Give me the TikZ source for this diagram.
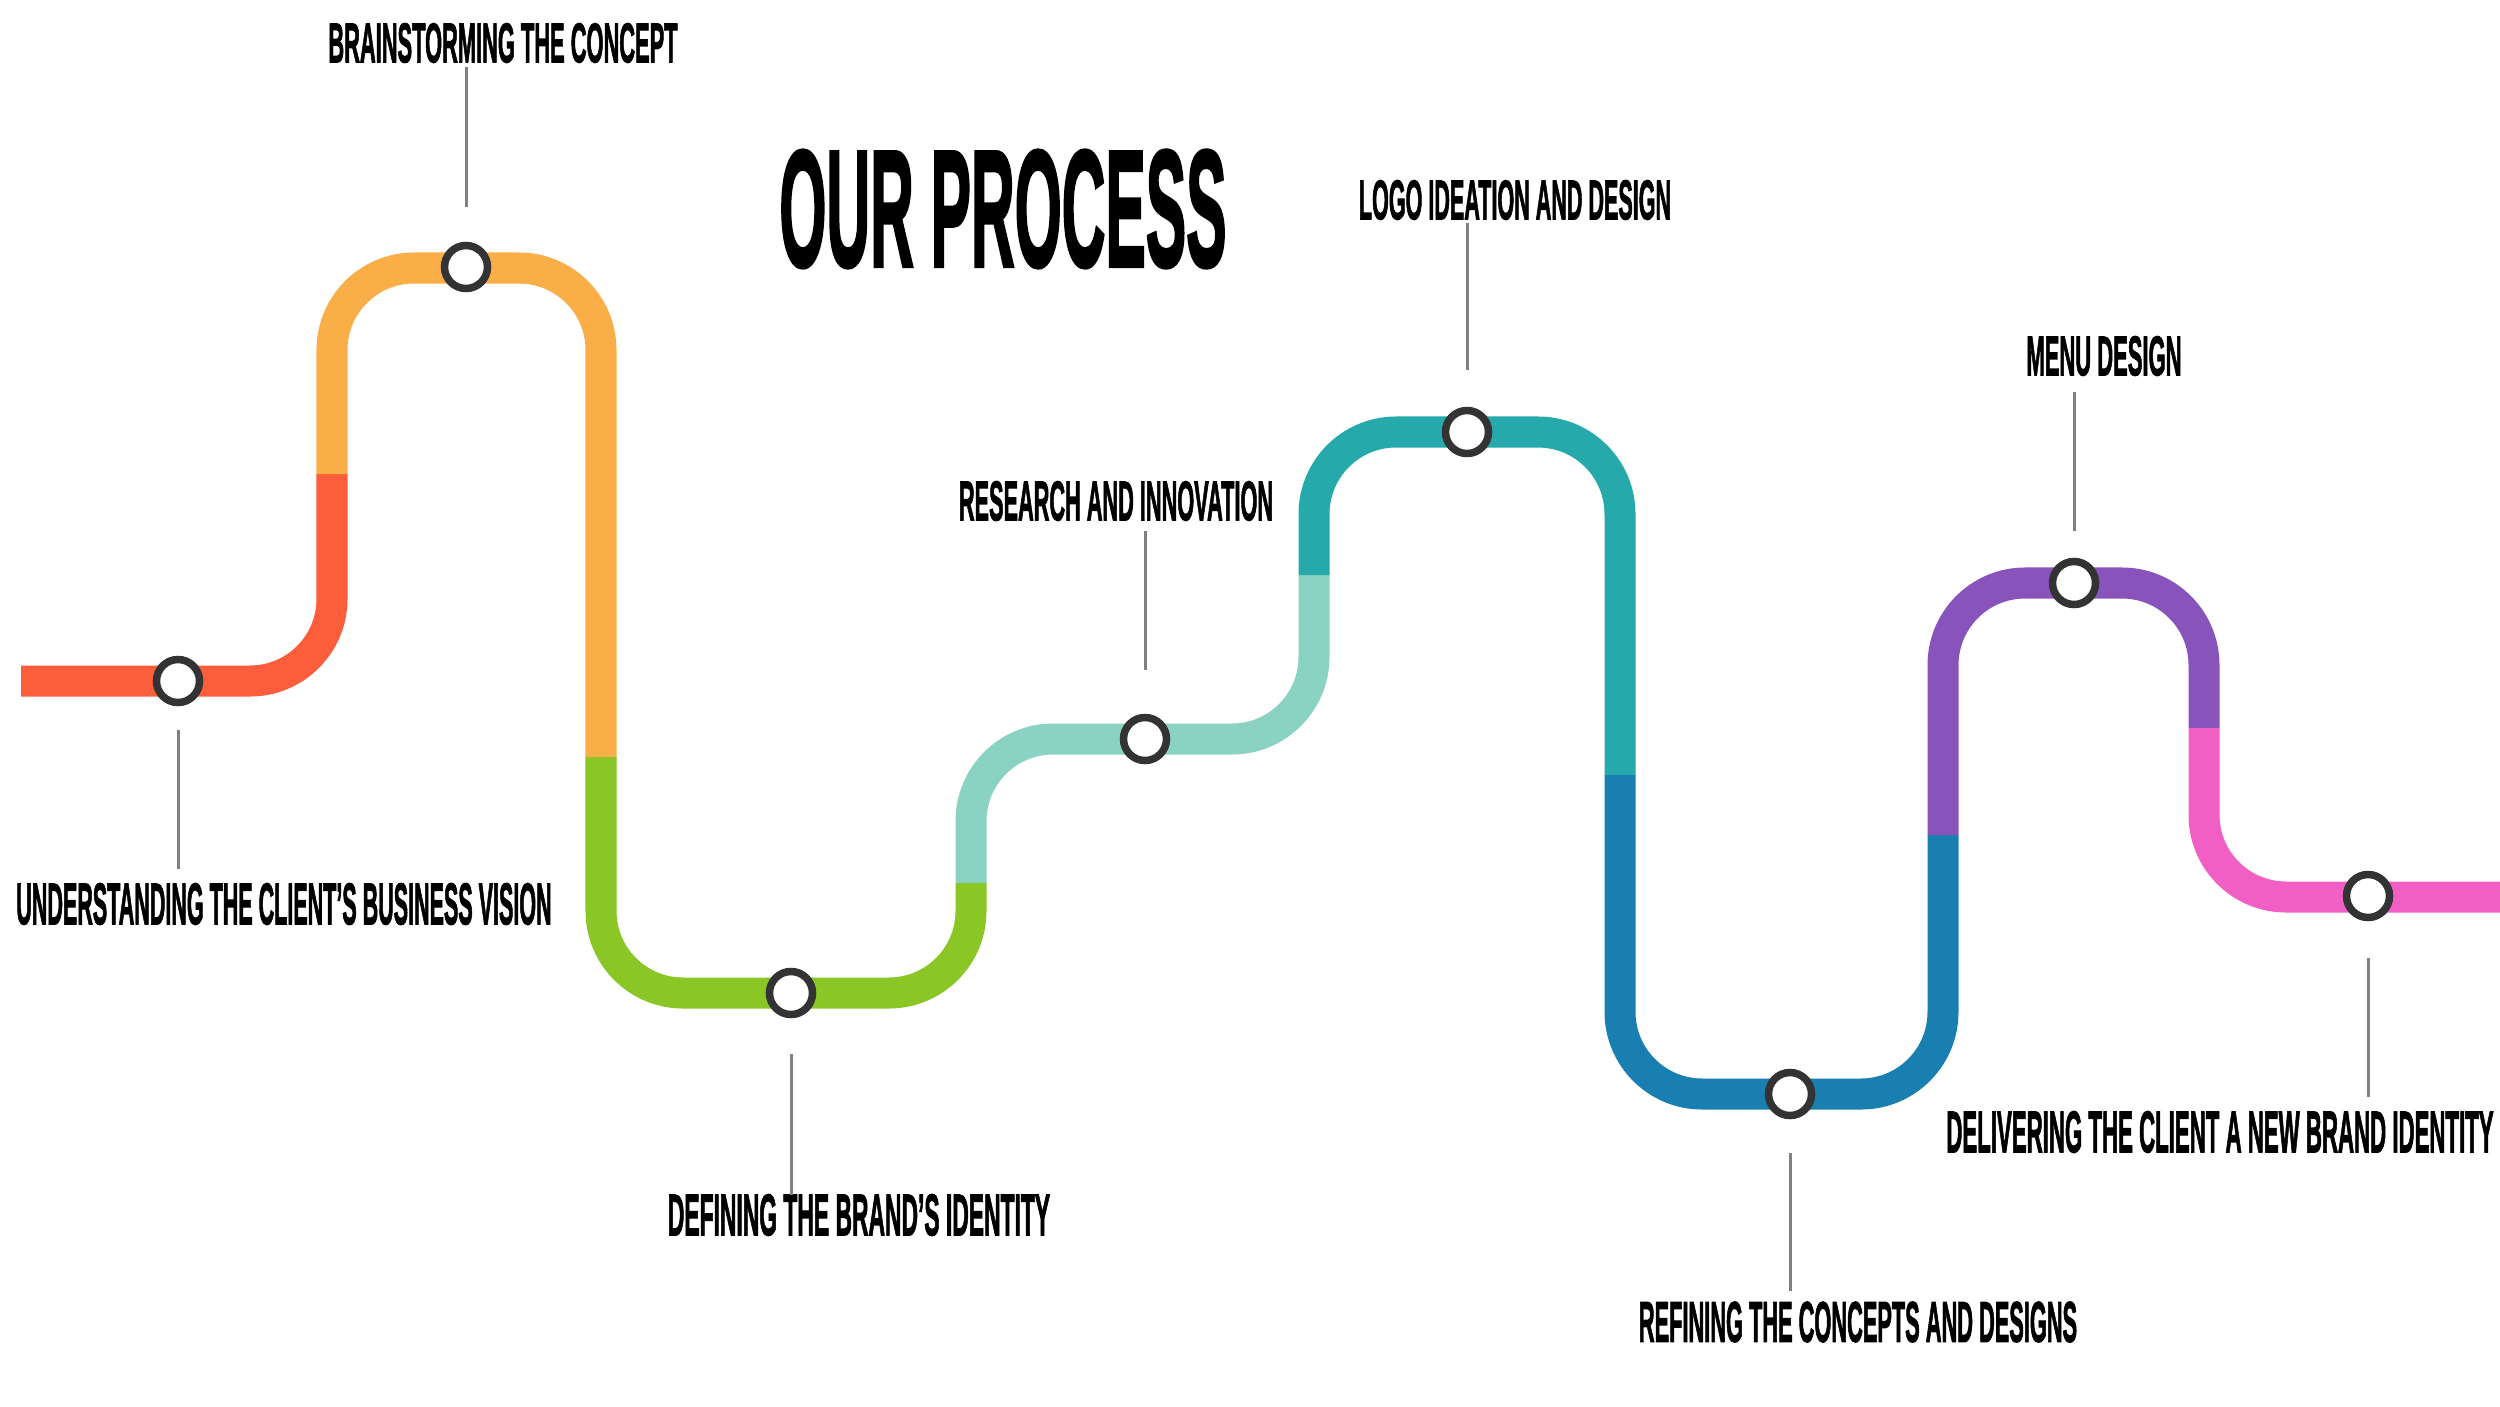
\documentclass[tikz,border=0pt]{standalone}
\usepackage{fontspec}
\setmainfont{Liberation Sans}
\newfontfamily\lblfont[FakeBold=2.2]{Liberation Sans Bold}
\usepackage{graphicx}
\definecolor{cRed}{HTML}{FC5D3A}
\definecolor{cOrange}{HTML}{F9AE48}
\definecolor{cGreen}{HTML}{8AC626}
\definecolor{cLtTeal}{HTML}{8AD3C3}
\definecolor{cTeal}{HTML}{26A9AB}
\definecolor{cBlue}{HTML}{187FB0}
\definecolor{cPurple}{HTML}{8853BA}
\definecolor{cPink}{HTML}{F25FC4}
\definecolor{cRing}{HTML}{333333}
\definecolor{cLeader}{HTML}{808080}
\newcommand{\lbltxt}[3]{\resizebox{#1cm}{#2cm}{\lblfont #3}}
\begin{document}
\begin{tikzpicture}[x=0.01cm,y=-0.01cm,
  track/.style={line width=0.31cm, rounded corners=0.82cm, line cap=butt},
  stop/.style={circle, draw=cRing, fill=white, line width=0.075cm, minimum size=0.43cm, inner sep=0pt},
  leader/.style={draw=cLeader, line width=0.03cm},
  lbl/.style={inner sep=0pt, text=black}]
\useasboundingbox (0,0) rectangle (2500,1406);
\fill[white] (0,0) rectangle (2500,1406);

% track segments
\draw[track, cRed] (21,681) -- (332,681) -- (332,474);
\draw[track, cOrange] (332,474) -- (332,268) -- (601,268) -- (601,757);
\draw[track, cGreen] (601,757) -- (601,993) -- (971,993) -- (971,883);
\draw[track, cLtTeal] (971,883) -- (971,739) -- (1314,739) -- (1314,575);
\draw[track, cTeal] (1314,575) -- (1314,432) -- (1620,432) -- (1620,775);
\draw[track, cBlue] (1620,775) -- (1620,1094) -- (1943,1094) -- (1943,835);
\draw[track, cPurple] (1943,835) -- (1943,583) -- (2204,583) -- (2204,728);
\draw[track, cPink] (2204,728) -- (2204,897) -- (2500,897);

% stops
\node[stop] (s1) at (178,681) {};
\node[stop] (s2) at (466,267) {};
\node[stop] (s3) at (791,993) {};
\node[stop] (s4) at (1145,739) {};
\node[stop] (s5) at (1467,432) {};
\node[stop] (s6) at (1790,1094) {};
\node[stop] (s7) at (2074,583) {};
\node[stop] (s8) at (2368,896) {};

% title
\node[lbl] (title) at (1003,209) {\lbltxt{4.47}{1.16}{OUR PROCESS}};

% labels
\node[lbl] (l1) at (284,904) {\lbltxt{5.35}{0.41}{UNDERSTANDING THE CLIENT’S BUSINESS VISION}};
\node[lbl] (l2) at (503,43) {\lbltxt{3.49}{0.39}{BRAINSTORMING THE CONCEPT}};
\node[lbl] (l3) at (859,1215) {\lbltxt{3.82}{0.41}{DEFINING THE BRAND’S IDENTITY}};
\node[lbl] (l4) at (1116,501) {\lbltxt{3.14}{0.39}{RESEARCH AND INNOVATION}};
\node[lbl] (l5) at (1515,200) {\lbltxt{3.12}{0.39}{LOGO IDEATION AND DESIGN}};
\node[lbl] (l6) at (1858,1322) {\lbltxt{4.38}{0.40}{REFINING THE CONCEPTS AND DESIGNS}};
\node[lbl] (l7) at (2104,356) {\lbltxt{1.55}{0.39}{MENU DESIGN}};
\node[lbl] (l8) at (2220,1132) {\lbltxt{5.47}{0.41}{DELIVERING THE CLIENT A NEW BRAND IDENTITY}};

% leader end points
\coordinate (a1) at (178,730);  \coordinate (b1) at (178,869);
\coordinate (a2) at (466,67);   \coordinate (b2) at (466,207);
\coordinate (a3) at (791,1054); \coordinate (b3) at (791,1195);
\coordinate (a4) at (1145,531); \coordinate (b4) at (1145,670);
\coordinate (a5) at (1467,223); \coordinate (b5) at (1467,370);
\coordinate (a6) at (1790,1153);\coordinate (b6) at (1790,1291);
\coordinate (a7) at (2074,392); \coordinate (b7) at (2074,531);
\coordinate (a8) at (2368,958); \coordinate (b8) at (2368,1097);
\foreach \i in {1,...,8} {\draw[leader] (a\i) -- (b\i);}
\end{tikzpicture}
\end{document}
